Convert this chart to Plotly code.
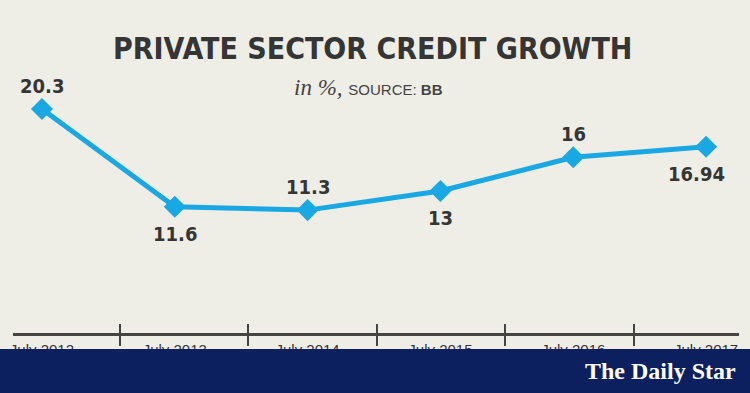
import plotly.graph_objects as go

# ---- data ----
periods = ["July 2012", "July 2013", "July 2014", "July 2015", "July 2016", "July 2017"]
growth = [20.3, 11.6, 11.3, 13, 16, 16.94]

# ---- style ----
label_above = [True, False, True, False, True, False]
label_xshift = [0, 0, 0, 0, 0, -10]
BG = "#efeee6"
LINE = "#1aa8e4"
DARK = "#353535"
NAVY = "#0c1f5e"
COND = "DejaVu Sans Condensed, Liberation Sans Narrow, sans-serif"
boundary_ticks = [0.587, 1.551, 2.523, 3.487, 4.458]

xs = list(range(len(periods)))

fig = go.Figure()
fig.add_trace(go.Scatter(
    x=xs, y=growth, mode="lines+markers",
    line=dict(color=LINE, width=5),
    marker=dict(symbol="diamond", size=17, color=LINE),
    hoverinfo="skip", showlegend=False, cliponaxis=False,
))
for ax in ("x2", "x3"):
    fig.add_trace(go.Scatter(x=xs, y=growth, xaxis=ax, mode="lines",
                             opacity=0, hoverinfo="skip", showlegend=False))

annotations = []
for x, v, up, dx in zip(xs, growth, label_above, label_xshift):
    annotations.append(dict(
        x=x, y=v, xref="x", yref="y", text=f"<b>{v:g}</b>", showarrow=False,
        xanchor="center", yanchor="middle", yshift=23 if up else -27, xshift=dx,
        font=dict(family=COND, size=20, color=DARK)))

xr = [-0.218, 5.248]
axpos = 3 / 241
annotations += [
    dict(text="<b>PRIVATE SECTOR CREDIT GROWTH</b>", xref="paper", yref="paper",
         x=(372 - 13) / 726, y=(337 - 48) / 241, xanchor="center", yanchor="middle",
         showarrow=False, font=dict(family=COND, size=30, color=DARK)),
    dict(text="<i>in %,</i> <span style='font-family:Liberation Sans, Arial, sans-serif;font-size:15px'>SOURCE: <b>BB</b></span>",
         xref="paper", yref="paper",
         x=(368 - 13) / 726, y=(337 - 88) / 241, xanchor="center", yanchor="middle",
         showarrow=False, font=dict(family="Liberation Serif, Georgia, serif", size=23, color="#444")),
    dict(text="<b>The Daily Star</b>", xref="paper", yref="paper",
         x=(738 - 13) / 726, y=-(371 - 337) / 241, xanchor="right", yanchor="middle",
         showarrow=False, font=dict(family="Liberation Serif, DejaVu Serif, serif", size=24, color="white")),
]

fig.update_layout(
    width=750, height=393,
    margin=dict(l=13, r=11, t=96, b=56),
    paper_bgcolor=BG, plot_bgcolor=BG,
    xaxis=dict(range=xr, tickvals=xs, ticktext=periods, showgrid=False, zeroline=False,
               showline=False, ticks="", ticklabelstandoff=2,
               tickfont=dict(family="Liberation Sans, Arial, sans-serif", size=15, color=DARK)),
    xaxis2=dict(range=xr, overlaying="x", anchor="free", position=axpos, side="bottom",
                tickvals=boundary_ticks, showticklabels=False, ticks="outside", ticklen=10,
                tickwidth=2, tickcolor="#444", showline=True, linecolor="#444", linewidth=3,
                showgrid=False, zeroline=False),
    xaxis3=dict(range=xr, overlaying="x", anchor="free", position=axpos, side="bottom",
                tickvals=boundary_ticks, showticklabels=False, ticks="inside", ticklen=10,
                tickwidth=2, tickcolor="#444", showline=False, showgrid=False, zeroline=False),
    yaxis=dict(range=[0, 21.46], visible=False, showgrid=False, zeroline=False),
    shapes=[dict(type="rect", xref="paper", yref="paper", x0=-0.1, x1=1.1,
                 y0=-1, y1=-(349 - 337) / 241,
                 fillcolor=NAVY, line=dict(width=0), layer="above")],
    annotations=annotations,
)
fig.write_html("out.html", config={"displayModeBar": False},
               post_script="document.body.style.margin='0';document.body.style.padding='0';")
